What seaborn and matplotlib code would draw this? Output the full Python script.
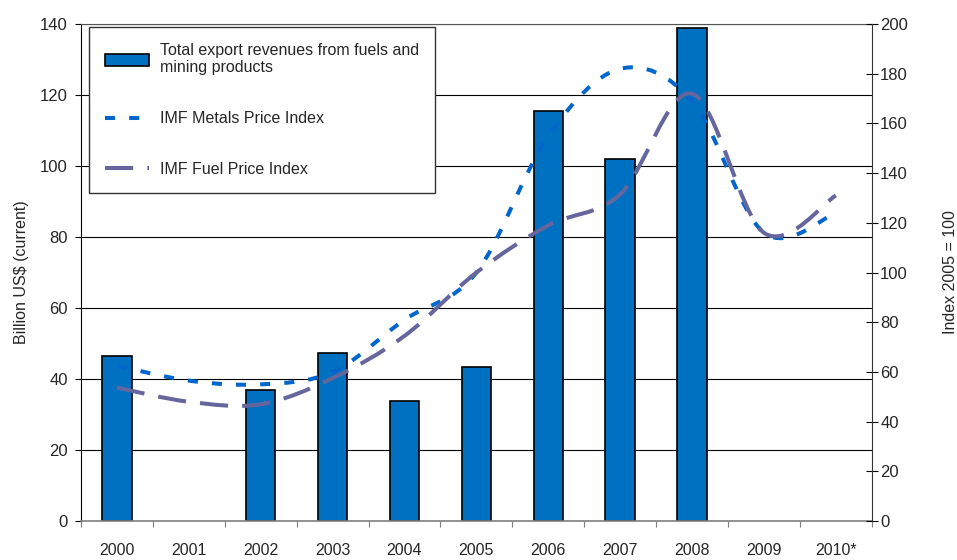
import numpy as np
import matplotlib
matplotlib.use("Agg")
import matplotlib.pyplot as plt
from matplotlib.path import Path
from matplotlib.patches import PathPatch, Patch
from matplotlib.lines import Line2D
from matplotlib.ticker import MultipleLocator, FixedLocator
import seaborn as sns

# -------------------------------
# Data
# -------------------------------
years = ["2000", "2001", "2002", "2003", "2004", "2005",
         "2006", "2007", "2008", "2009", "2010*"]

# export revenues, billion US$ (no bars for 2001, 2009, 2010*)
bar_years = ["2000", "2002", "2003", "2004", "2005", "2006", "2007", "2008"]
export_revenues = [46.6, 36.8, 47.4, 33.7, 43.5, 115.6, 102.1, 138.9]

# price indices, 2005 = 100
metals_index = [62.5, 56.5, 55, 60, 81, 100, 155, 182, 169, 116, 124]
fuel_index = [53.7, 48, 47, 57.5, 74.5, 100, 119, 131.5, 172, 116, 131]

bar_color = "#0070C0"
metals_color = "#0066CC"
fuel_color = "#66669E"


def smooth_path(xs, ys):
    # Excel-style smoothed line: cubic bezier through every point
    pts = np.column_stack([xs, ys]).astype(float)
    n = len(pts)
    verts = [pts[0]]
    codes = [Path.MOVETO]
    for i in range(n - 1):
        p0 = pts[max(i - 1, 0)]
        p1 = pts[i]
        p2 = pts[i + 1]
        p3 = pts[min(i + 2, n - 1)]
        verts += [p1 + (p2 - p0) / 6, p2 - (p3 - p1) / 6, p2]
        codes += [Path.CURVE4] * 3
    return Path(verts, codes)


# -------------------------------
# Style
# -------------------------------
sns.set_theme(style="white")
plt.rcParams["font.family"] = ["Liberation Sans", "DejaVu Sans"]

fig, ax = plt.subplots(figsize=(9.57, 5.6), dpi=100)
fig.subplots_adjust(left=0.0846, right=0.911, top=0.957, bottom=0.0696)

# -------------------------------
# Bars
# -------------------------------
sns.barplot(x=bar_years, y=export_revenues, order=years, color=bar_color,
            saturation=1, edgecolor="black", linewidth=1.2, width=0.41, ax=ax)
ax.set_ylim(0, 140)
ax.set_xlim(-0.5, len(years) - 0.5)
ax.yaxis.set_major_locator(MultipleLocator(20))
ax.set_axisbelow(True)
ax.yaxis.grid(True, color="black", linewidth=0.8)
ax.xaxis.grid(False)
ax.set_xlabel("")
ax.set_ylabel("Billion US$ (current)", fontsize=11.5, labelpad=8)

ax.tick_params(axis="y", direction="out", length=4.5, width=0.8,
               color="black", labelsize=12, pad=5, left=True)
ax.tick_params(axis="x", which="major", length=0, labelsize=11.5, pad=16)
ax.xaxis.set_minor_locator(FixedLocator(np.arange(-0.5, len(years), 1.0)))
ax.tick_params(axis="x", which="minor", direction="out", length=4,
               width=0.8, color="#808080", bottom=True)

for side in ["left", "right", "top", "bottom"]:
    ax.spines[side].set_visible(False)
ax.spines["left"].set_visible(True)
ax.spines["left"].set_color("black")
ax.spines["left"].set_linewidth(0.8)
ax.spines["bottom"].set_visible(True)
ax.spines["bottom"].set_color("#808080")
ax.spines["bottom"].set_linewidth(1.2)
ax.spines["top"].set_visible(True)
ax.spines["top"].set_color("#555555")
ax.spines["top"].set_linewidth(0.8)

# -------------------------------
# Index lines on right axis
# -------------------------------
ax2 = ax.twinx()
ax2.set_ylim(0, 200)
ax2.yaxis.set_major_locator(MultipleLocator(20))
ax2.grid(False)
xpos = np.arange(len(years))

ax2.add_patch(PathPatch(smooth_path(xpos, metals_index), fill=False,
                        edgecolor=metals_color, linewidth=2.9,
                        linestyle=(0, (2.5, 3.5)), capstyle="butt"))
ax2.add_patch(PathPatch(smooth_path(xpos, fuel_index), fill=False,
                        edgecolor=fuel_color, linewidth=2.9,
                        linestyle=(0, (7, 3.5)), capstyle="butt"))

ax2.set_ylabel("Index 2005 = 100", fontsize=11.5, labelpad=25)
ax2.tick_params(axis="y", direction="inout", length=8, width=0.8,
                color="black", labelsize=12, pad=2, right=True)
for side in ["left", "top", "bottom"]:
    ax2.spines[side].set_visible(False)
ax2.spines["right"].set_visible(True)
ax2.spines["right"].set_color("#333333")
ax2.spines["right"].set_linewidth(0.8)

# -------------------------------
# Legend
# -------------------------------
handles = [
    Patch(facecolor=bar_color, edgecolor="black", linewidth=1.2),
    Line2D([], [], color=metals_color, linewidth=2.9, linestyle=(0, (2.5, 3.5))),
    Line2D([], [], color=fuel_color, linewidth=2.9, linestyle=(0, (7, 3.5))),
]
labels = ["Total export revenues from fuels and\nmining products",
          "IMF Metals Price Index",
          "IMF Fuel Price Index"]
leg = ax2.legend(handles, labels, loc="upper left",
                 bbox_to_anchor=(0.0101, 0.994), borderaxespad=0,
                 fontsize=11.5, frameon=True, fancybox=False,
                 handlelength=2.75, handleheight=0.8, handletextpad=0.7,
                 labelspacing=2.25, borderpad=1.0)
leg.get_frame().set_edgecolor("#333333")
leg.get_frame().set_linewidth(1.0)
leg.get_frame().set_alpha(1)

fig.savefig("out.png", dpi=100)
